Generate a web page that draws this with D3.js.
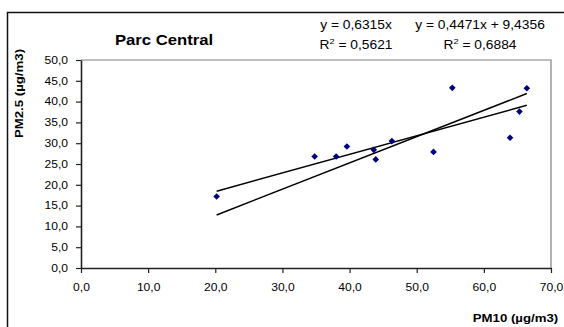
<!DOCTYPE html>
<html>
<head>
<meta charset="utf-8">
<script src="https://cdn.jsdelivr.net/npm/d3@7"></script>
<style>
  body { margin: 0; background: #fff; }
  svg { display: block; font-family: "Liberation Sans", Arial, sans-serif; }
</style>
</head>
<body>
<svg class="parcCentral"></svg>
<script>
// values
const pm10 = [20.2, 34.8, 38.0, 39.6, 43.6, 43.9, 46.3, 52.5, 55.3, 63.9, 65.3, 66.4];
const pm25 = [17.2, 26.8, 26.8, 29.2, 28.4, 26.1, 30.5, 27.9, 43.3, 31.3, 37.6, 43.2];
const xTicks = [0, 10, 20, 30, 40, 50, 60, 70];
const yTicks = [0, 5, 10, 15, 20, 25, 30, 35, 40, 45, 50];
const fitOrigin = {slope: 0.6315, intercept: 0, r2: "0,5621", label: "y = 0,6315x"};
const fitLinear = {slope: 0.4471, intercept: 9.4356, r2: "0,6884", label: "y = 0,4471x + 9,4356"};

const W = 564, H = 327;
const sx = 1.15; // text in the reference is a bit wide

const svg = d3.select(".parcCentral")
    .attr("width", W)
    .attr("height", H);

svg.append("rect")
    .attr("width", W).attr("height", H)
    .attr("fill", "#fff");

// outer chart frame
svg.append("rect")
    .attr("x", 7.5).attr("y", 12.5)
    .attr("width", 570).attr("height", 330)
    .attr("fill", "none")
    .attr("stroke", "#111")
    .attr("stroke-width", 1.5);

const x = d3.scaleLinear().domain([0, 70]).range([81, 551]);
const y = d3.scaleLinear().domain([0, 50]).range([268, 60]);

const fmt = d => d.toFixed(1).replace(".", ",");

// plot area border (top and right)
svg.append("path")
    .attr("d", `M${x(0)},${y(50)}H${x(70)}V${y(0)}`)
    .attr("fill", "none")
    .attr("stroke", "#808080")
    .attr("stroke-width", 1.2);

// axes
const gx = svg.append("g")
    .attr("transform", `translate(0,${y(0)})`)
    .call(d3.axisBottom(x).tickValues(xTicks).tickFormat(fmt).tickSize(5).tickSizeOuter(0).tickPadding(11));

const gy = svg.append("g")
    .attr("transform", `translate(${x(0)},0)`)
    .call(d3.axisLeft(y).tickValues(yTicks).tickFormat(fmt).tickSize(5).tickSizeOuter(0).tickPadding(8));

[gx, gy].forEach(g => {
    g.select(".domain").attr("stroke", "#222").attr("stroke-width", 1.6);
    g.selectAll(".tick line").attr("stroke", "#222").attr("stroke-width", 1.2);
    g.selectAll(".tick text")
        .attr("fill", "#000")
        .style("font-size", "10.5px")
        .style("font-family", "Liberation Sans, Arial, sans-serif");
});
gy.selectAll(".tick text")
    .attr("x", -13 / sx)
    .attr("transform", `scale(${sx},1)`);
gx.selectAll(".tick text")
    .attr("transform", `scale(${sx},1)`);

function addText(px, py, str, size, weight, rot) {
    const g = svg.append("g")
        .attr("transform", `translate(${px},${py})` + (rot ? ` rotate(${rot})` : "") + ` scale(${sx},1)`);
    return g.append("text")
        .attr("text-anchor", "middle")
        .style("font-size", size + "px")
        .style("font-weight", weight)
        .attr("fill", "#000")
        .text(str);
}

addText(164, 45, "Parc Central", 14.5, "bold");
addText(515.5, 321.5, "PM10 (µg/m3)", 11.5, "bold");
addText(23, 93.5, "PM2.5 (µg/m3)", 11.5, "bold", -90);

// trend lines, drawn over the range of the data
const xExt = d3.extent(pm10);
[fitOrigin, fitLinear].forEach(f => {
    svg.append("line")
        .attr("x1", x(xExt[0])).attr("y1", y(f.slope * xExt[0] + f.intercept))
        .attr("x2", x(xExt[1])).attr("y2", y(f.slope * xExt[1] + f.intercept))
        .attr("stroke", "#000")
        .attr("stroke-width", 1.5);
});

// points (diamonds)
svg.append("g").selectAll("path")
    .data(d3.range(pm10.length))
    .join("path")
    .attr("transform", i => `translate(${x(pm10[i])},${y(pm25[i])}) rotate(45)`)
    .attr("d", d3.symbol().type(d3.symbolSquare).size(22))
    .attr("fill", "#000080");

// equation labels
function addEquation(cx, f) {
    addText(cx, 29, f.label, 12, "normal");
    const t = addText(cx, 49, "", 12, "normal");
    t.append("tspan").text("R");
    t.append("tspan").attr("dy", -5).style("font-size", "8px").text("2");
    t.append("tspan").attr("dy", 5).text(" = " + f.r2);
}
addEquation(356, fitOrigin);
addEquation(480, fitLinear);
</script>
</body>
</html>
